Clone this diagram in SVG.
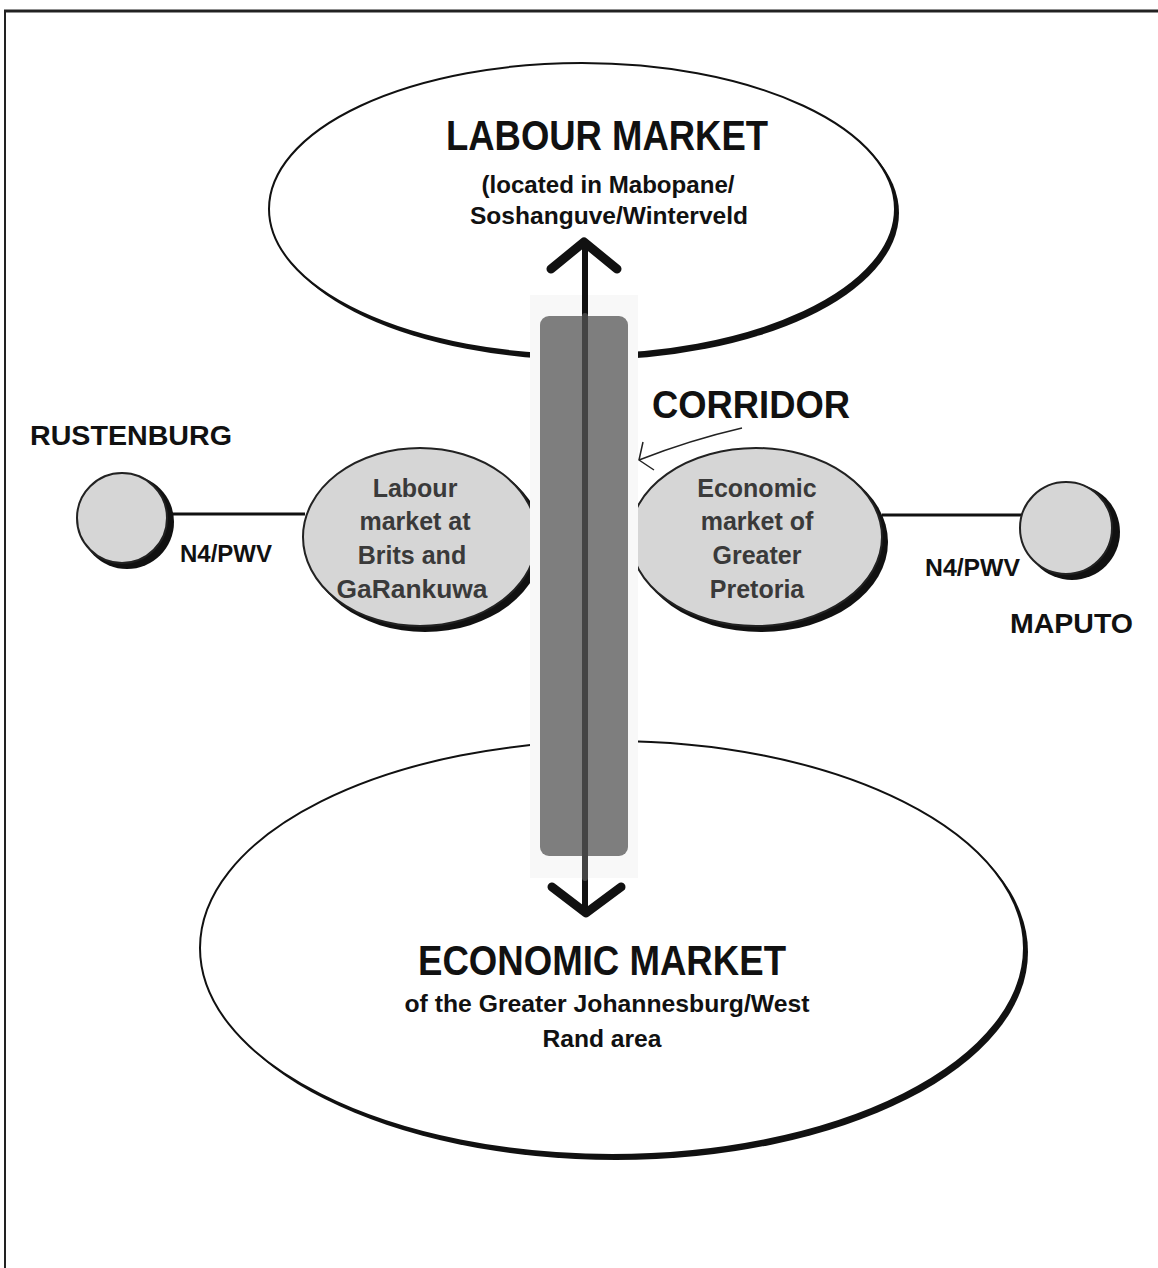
<svg xmlns="http://www.w3.org/2000/svg" width="1158" height="1268" viewBox="0 0 1158 1268">
<style>
.t{font-family:"Liberation Sans",Arial,sans-serif;font-weight:bold;fill:#111}
.g{font-family:"Liberation Sans",Arial,sans-serif;font-weight:bold;fill:#3a3a3a}
.big{fill:#fff;stroke:#111;stroke-width:2}
.sh{fill:#111}
.sm{fill:#d6d6d6;stroke:#222;stroke-width:2}
</style>
<rect width="1158" height="1268" fill="#fff"/>
<g id="frame" fill="none" stroke="#222">
<path d="M4 11 H1158" stroke-width="3"/>
<path d="M5 10 V1268" stroke-width="2"/>
</g>
<g id="labour-market">
<ellipse class="sh" cx="586" cy="213" rx="313" ry="147"/>
<ellipse class="big" cx="582" cy="209" rx="313" ry="146"/>
<text class="t" x="607" y="150" font-size="42" text-anchor="middle" textLength="322" lengthAdjust="spacingAndGlyphs">LABOUR MARKET</text>
<text class="t" x="608" y="193" font-size="24" text-anchor="middle" textLength="253" lengthAdjust="spacingAndGlyphs">(located in Mabopane/</text>
<text class="t" x="609" y="224" font-size="24" text-anchor="middle" textLength="278" lengthAdjust="spacingAndGlyphs">Soshanguve/Winterveld</text>
</g>
<g id="economic-market">
<ellipse class="sh" cx="616" cy="952" rx="412" ry="208"/>
<ellipse class="big" cx="612" cy="948" rx="412" ry="207"/>
<text class="t" x="602" y="975" font-size="42" text-anchor="middle" textLength="368" lengthAdjust="spacingAndGlyphs">ECONOMIC MARKET</text>
<text class="t" x="607" y="1012" font-size="24" text-anchor="middle" textLength="405" lengthAdjust="spacingAndGlyphs">of the Greater Johannesburg/West</text>
<text class="t" x="602" y="1047" font-size="24" text-anchor="middle" textLength="119" lengthAdjust="spacingAndGlyphs">Rand area</text>
</g>
<g id="connectors">
<line x1="166" y1="514" x2="305" y2="514" stroke="#111" stroke-width="3"/>
<line x1="882" y1="515" x2="1024" y2="515" stroke="#111" stroke-width="3"/>
</g>
<g id="rustenburg">
<circle class="sh" cx="127" cy="522" r="47"/>
<circle class="sm" cx="122" cy="518" r="45"/>
<text class="t" x="30" y="445" font-size="27" textLength="202" lengthAdjust="spacingAndGlyphs">RUSTENBURG</text>
</g>
<g id="maputo">
<circle class="sh" cx="1072" cy="532" r="48"/>
<circle class="sm" cx="1066" cy="528" r="46"/>
<text class="t" x="1010" y="633" font-size="28" textLength="123" lengthAdjust="spacingAndGlyphs">MAPUTO</text>
</g>
<g id="n4-labels">
<text class="t" x="180" y="562" font-size="24" textLength="92" lengthAdjust="spacingAndGlyphs">N4/PWV</text>
<text class="t" x="925" y="576" font-size="24" textLength="95" lengthAdjust="spacingAndGlyphs">N4/PWV</text>
</g>
<g id="brits">
<ellipse class="sh" cx="425" cy="542" rx="118" ry="90"/>
<ellipse class="sm" cx="420" cy="537" rx="117" ry="89"/>
<text class="g" x="415" y="497" font-size="25" text-anchor="middle">Labour</text>
<text class="g" x="415" y="530" font-size="25" text-anchor="middle">market at</text>
<text class="g" x="412" y="564" font-size="25" text-anchor="middle">Brits and</text>
<text class="g" x="412" y="598" font-size="25" text-anchor="middle" textLength="151" lengthAdjust="spacingAndGlyphs">GaRankuwa</text>
</g>
<g id="pretoria">
<ellipse class="sh" cx="761" cy="542" rx="127" ry="90"/>
<ellipse class="sm" cx="756" cy="537" rx="126" ry="89"/>
<text class="g" x="757" y="497" font-size="25" text-anchor="middle">Economic</text>
<text class="g" x="757" y="530" font-size="25" text-anchor="middle">market of</text>
<text class="g" x="757" y="564" font-size="25" text-anchor="middle">Greater</text>
<text class="g" x="757" y="598" font-size="25" text-anchor="middle">Pretoria</text>
</g>
<g id="corridor">
<rect x="530" y="295" width="108" height="583" fill="#f8f8f8"/>
<rect x="540" y="316" width="88" height="540" rx="9" fill="#7e7e7e"/>
<text class="t" x="652" y="418" font-size="39" textLength="198" lengthAdjust="spacingAndGlyphs">CORRIDOR</text>
<path d="M742 428 Q690 440 639 460" fill="none" stroke="#222" stroke-width="1.5"/>
<path d="M643 442 L639 460 L654 470" fill="none" stroke="#222" stroke-width="1.5"/>
</g>
<g id="connectors-arrow" fill="none" stroke-linecap="round" stroke-linejoin="round">
<line x1="585" y1="246" x2="585" y2="911" stroke="#111" stroke-width="6"/>
<line x1="585" y1="316" x2="585" y2="878" stroke="#444" stroke-width="6"/>
<path d="M551 269 L584 242 L617 269" stroke="#111" stroke-width="9"/>
<path d="M552 887 L586 913 L621 887" stroke="#111" stroke-width="9"/>
</g>
</svg>
